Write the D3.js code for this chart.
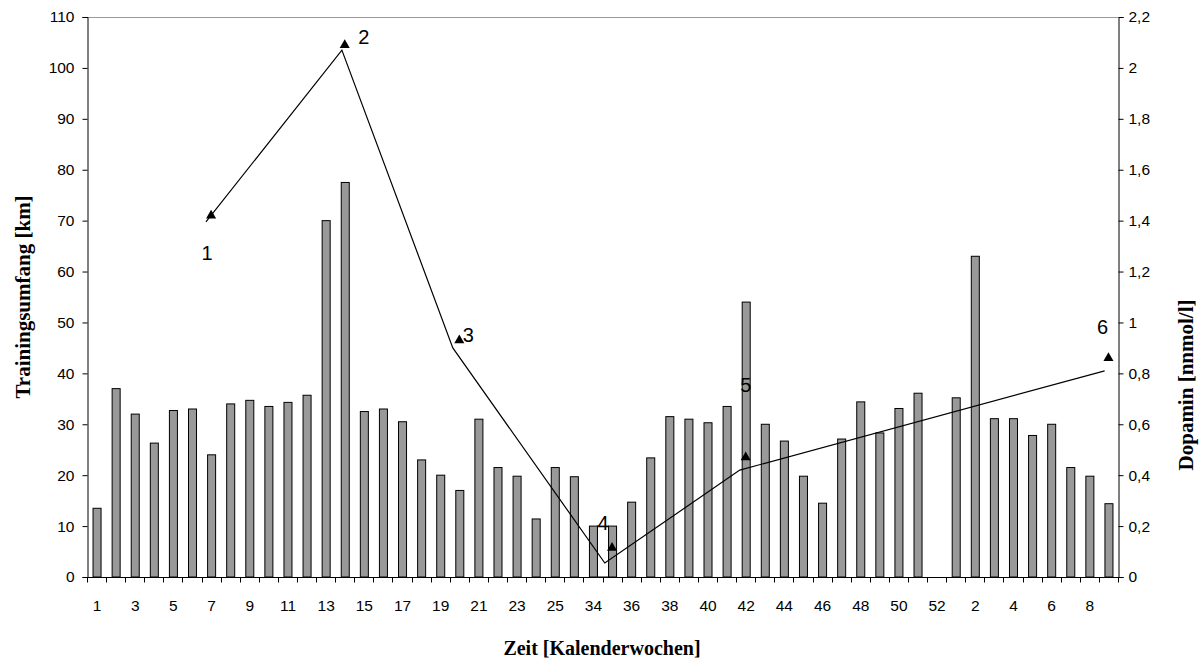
<!DOCTYPE html>
<html>
<head>
<meta charset="utf-8">
<script src="https://cdn.jsdelivr.net/npm/d3@7"></script>
<style>
  html, body { margin: 0; padding: 0; background: #fff; }
  svg { display: block; }
</style>
</head>
<body>
<svg id="chart" width="1204" height="662"></svg>
<script>
// ---------- data ----------
const weeks = [1,2,3,4,5,6,7,8,9,10,11,12,13,14,15,16,17,18,19,20,21,22,23,24,25,
  33,34,35,36,37,38,39,40,41,42,43,44,45,46,47,48,49,50,51,52,
  1,2,3,4,5,6,7,8,9];
const training = [13.5,37,32,26.3,32.7,33,24,34,34.7,33.5,34.3,35.7,70,77.5,32.5,33,30.5,23,20,17,31,21.5,19.8,11.4,21.5,
  19.7,10,10,14.7,23.4,31.5,31,30.3,33.5,54,30,26.7,19.8,14.5,27.1,34.4,28.3,33.1,36.1,null,
  35.2,63,31.1,31.1,27.8,30,21.5,19.8,14.4];
const dopaMarkerIdx = [6,13,19,27,34,53];
const dopaMarkerVal = [1.42,2.09,0.93,0.115,0.47,0.86];
const dopaMarkerLabel = ["1","2","3","4","5","6"];
const dopaLinePos = [5.73,12.85,18.66,26.62,33.69,52.8];
const dopaLineVal = [1.395,2.07,0.90,0.055,0.42,0.81];
const leftTicks = [0,10,20,30,40,50,60,70,80,90,100,110];
const rightTicks = [0,0.2,0.4,0.6,0.8,1,1.2,1.4,1.6,1.8,2,2.2];
const boxIdx = [26,27]; // white box between bars of weeks 34 and 35 (height 10)

// ---------- layout ----------
const L = 87, R = 1118, T = 17, B = 577;
const labelOffsets = [[-4,37],[19,-8],[9,-5],[-9,-25],[0,-72],[-6,-31]];
const svg = d3.select("#chart");
const tickFont = "'Liberation Sans', Arial, sans-serif";
const titleFont = "'Liberation Serif', 'Times New Roman', serif";
const tickSize = 15.5, titleSize = 20, vTitleSize = 21;

const idx = d3.range(weeks.length);
const x = d3.scaleBand().domain(idx).range([L, R]).paddingInner(0.58).paddingOuter(0.29);
const step = x.step();
const xc = i => x(i) + x.bandwidth() / 2;
const xLin = d3.scaleLinear().domain([-0.5, weeks.length - 0.5]).range([L, R]);
const yL = d3.scaleLinear().domain([0, 110]).range([B, T]);
const yR = d3.scaleLinear().domain([0, 2.2]).range([B, T]);

// plot border top (gray)
svg.append("line").attr("x1", L).attr("x2", R).attr("y1", T + 0.5).attr("y2", T + 0.5)
  .attr("stroke", "#999").attr("stroke-width", 1);

// bars
svg.append("g").selectAll("rect").data(idx.filter(i => training[i] != null)).join("rect")
  .attr("x", i => x(i) + 0.5)
  .attr("y", i => yL(training[i]))
  .attr("width", x.bandwidth())
  .attr("height", i => B - yL(training[i]))
  .attr("fill", "#999999")
  .attr("stroke", "#000")
  .attr("stroke-width", 1);

// white box between bars 34/35
svg.append("rect")
  .attr("x", x(boxIdx[0]) + x.bandwidth() + 0.5)
  .attr("y", yL(training[boxIdx[0]]))
  .attr("width", x(boxIdx[1]) - x(boxIdx[0]) - x.bandwidth())
  .attr("height", B - yL(training[boxIdx[0]]))
  .attr("fill", "#fff").attr("stroke", "#000").attr("stroke-width", 1);

// left axis
const gL = svg.append("g").attr("transform", `translate(${L + 0.5},0)`)
  .call(d3.axisLeft(yL).tickValues(leftTicks).tickSize(5).tickPadding(8).tickFormat(d3.format("d")));
gL.selectAll("text").attr("font-family", tickFont).attr("font-size", tickSize).attr("fill", "#000");
gL.select(".domain").attr("stroke", "#000");

// right axis
const fmtR = d => String(+d.toFixed(1)).replace(".", ",");
const gR = svg.append("g").attr("transform", `translate(${R + 0.5},0)`)
  .call(d3.axisRight(yR).tickValues(rightTicks).tickSize(5).tickPadding(5).tickFormat(fmtR));
gR.selectAll("text").attr("font-family", tickFont).attr("font-size", tickSize).attr("fill", "#000");
gR.select(".domain").attr("stroke", "#000");

// bottom axis
const gB = svg.append("g").attr("transform", `translate(0,${B + 0.5})`);
gB.append("line").attr("x1", L).attr("x2", R + 1).attr("stroke", "#000");
const bounds = d3.range(weeks.length + 1).map(k => L + k * step);
gB.selectAll("line.t").data(bounds).join("line").attr("class", "t")
  .attr("x1", d => Math.round(d) + 0.5).attr("x2", d => Math.round(d) + 0.5)
  .attr("y1", 0).attr("y2", 5).attr("stroke", "#000");
gB.selectAll("text").data(idx.filter(i => i % 2 === 0)).join("text")
  .attr("x", i => xc(i) + 0.5).attr("y", 28)
  .attr("text-anchor", "middle").attr("dominant-baseline", "central")
  .attr("font-family", tickFont).attr("font-size", tickSize)
  .text(i => weeks[i]);

// dopamine line
const line = d3.line().x(d => xLin(d[0])).y(d => yR(d[1]));
svg.append("path")
  .datum(dopaLinePos.map((p, k) => [p, dopaLineVal[k]]))
  .attr("d", line).attr("fill", "none").attr("stroke", "#000").attr("stroke-width", 1.2);

// markers
const tri = d3.symbol().type(d3.symbolTriangle).size(44);
svg.append("g").selectAll("path").data(dopaMarkerIdx).join("path")
  .attr("d", tri)
  .attr("transform", (d, k) => `translate(${xc(d)},${yR(dopaMarkerVal[k])})`)
  .attr("fill", "#000");

// marker labels
svg.append("g").selectAll("text").data(dopaMarkerIdx).join("text")
  .attr("x", (d, k) => xc(d) + labelOffsets[k][0])
  .attr("y", (d, k) => yR(dopaMarkerVal[k]) + labelOffsets[k][1])
  .attr("text-anchor", "middle").attr("dominant-baseline", "central")
  .attr("font-family", tickFont).attr("font-size", 20)
  .text((d, k) => dopaMarkerLabel[k]);

// axis titles
svg.append("text")
  .attr("transform", `translate(23,${(T + B) / 2}) rotate(-90)`)
  .attr("text-anchor", "middle").attr("dominant-baseline", "central")
  .attr("font-family", titleFont).attr("font-weight", "bold").attr("font-size", vTitleSize)
  .text("Trainingsumfang [km]");
svg.append("text")
  .attr("transform", `translate(1186,385) rotate(-90)`)
  .attr("text-anchor", "middle").attr("dominant-baseline", "central")
  .attr("font-family", titleFont).attr("font-weight", "bold").attr("font-size", vTitleSize)
  .text("Dopamin [nnmol/l]");
svg.append("text")
  .attr("x", 602).attr("y", 648)
  .attr("text-anchor", "middle").attr("dominant-baseline", "central")
  .attr("font-family", titleFont).attr("font-weight", "bold").attr("font-size", titleSize)
  .text("Zeit [Kalenderwochen]");
</script>
</body>
</html>
